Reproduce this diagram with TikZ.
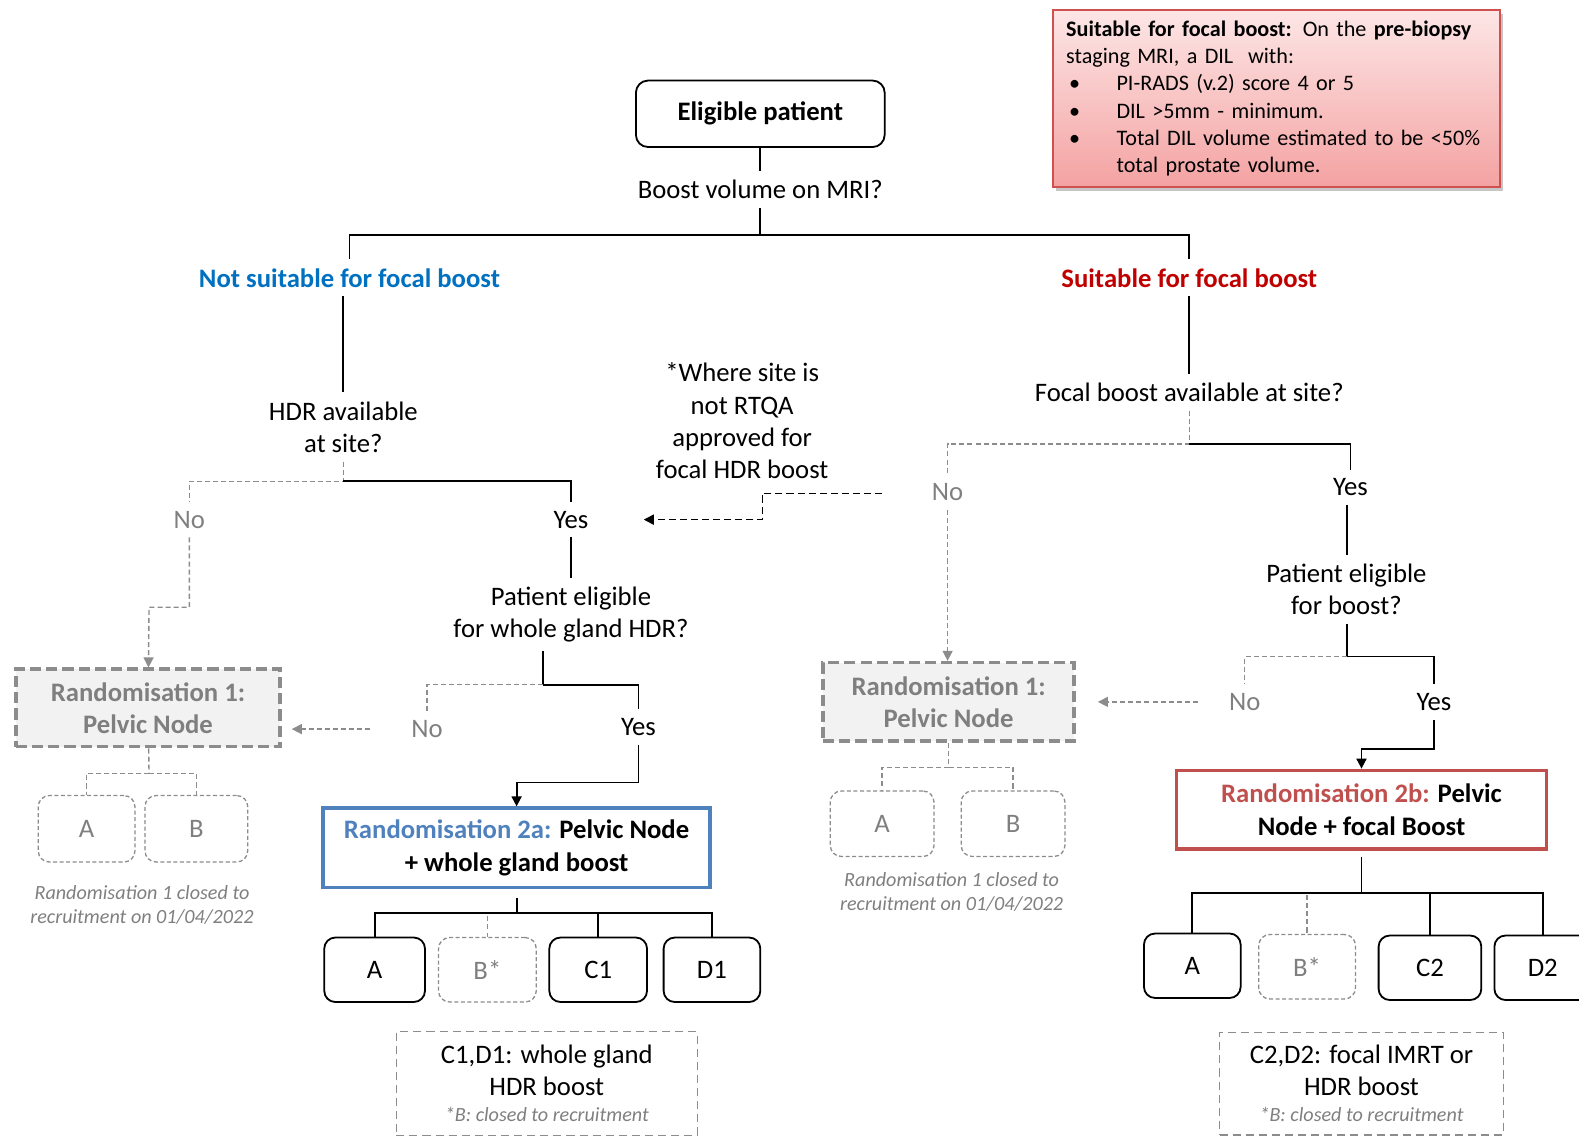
\documentclass[tikz,border=0pt]{standalone}
\usepackage{fontspec}
\setmainfont{Carlito}
\usetikzlibrary{calc, arrows.meta, shadows, shadings}

% bullet with its indent for the criteria box
\newcommand{\infobullet}{\makebox[50pt][l]{\hspace{3pt}\textbullet}}

\begin{document}
\begin{tikzpicture}[x=1pt, y=-1pt,
    txt/.style={font=\fontsize{26.5}{32}\selectfont, align=center, inner sep=3pt, outer sep=6pt},
    greytxt/.style={txt, text=greyText},
    boldtxt/.style={txt, font=\fontsize{26.5}{32}\selectfont\bfseries},
    conn/.style={draw=black, line width=1.8pt},
    greyconn/.style={draw=greyLine, line width=1.4pt, dash pattern=on 5pt off 3pt},
    blackdash/.style={draw=black, line width=1.6pt, dash pattern=on 7pt off 4pt},
    arrowtip/.style={-{Triangle[length=10pt,width=10pt]}},
    patientbox/.style={draw, rounded corners=12pt, line width=1.8pt, minimum width=247pt, minimum height=66pt, font=\fontsize{26.5}{32}\selectfont\bfseries},
    armbox/.style={draw, rounded corners=11pt, line width=1.8pt, minimum width=98pt, minimum height=64pt, font=\fontsize{26.5}{32}\selectfont},
    armgrey/.style={armbox, draw=greyLine, line width=1.3pt, dash pattern=on 4pt off 2.5pt, text=greyText},
    randone/.style={draw=greyLine, fill=greyFill, line width=3.5pt, dash pattern=on 11pt off 5pt, text=greyText, align=center, font=\fontsize{26.5}{32}\selectfont\bfseries},
    randtwo/.style={draw, line width=3.5pt, align=center, font=\fontsize{26.5}{32}\selectfont\bfseries},
    notebox/.style={draw=greyLine, line width=1.4pt, dash pattern=on 8pt off 5pt, align=center, font=\fontsize{26.5}{32}\selectfont},
    closednote/.style={font=\fontsize{20}{24}\selectfont\itshape, text=greyText, align=center, inner sep=2pt},
    infobox/.style={anchor=north west, draw=infoBorder, line width=1.5pt, top color=infoTop, bottom color=infoBot, drop shadow={shadow xshift=3pt, shadow yshift=-4pt, opacity=0.45}, minimum width=444pt, minimum height=176pt, text width=418pt, inner xsep=13pt, inner ysep=8pt, align=left, font=\fontsize{22}{27}\selectfont}
]
    % Define colours
    \definecolor{greyText}{HTML}{7F7F7F}
    \definecolor{greyLine}{HTML}{8C8C8C}
    \definecolor{greyFill}{HTML}{F2F2F2}
    \definecolor{blueLabel}{HTML}{0070C0}
    \definecolor{redLabel}{HTML}{C00000}
    \definecolor{blueBox}{HTML}{4F81BD}
    \definecolor{redBox}{HTML}{C0504D}
    \definecolor{infoTop}{HTML}{FDE6E6}
    \definecolor{infoBot}{HTML}{F4A2A2}
    \definecolor{infoBorder}{HTML}{D05050}

  % Fix the page size
  \useasboundingbox (0,0) rectangle (1568,1128);
  \clip (0,0) rectangle (1568,1128);

  % Criteria box
  \node[infobox] (info) at (1045,9) {\textbf{Suitable for focal boost:} On the \textbf{pre-biopsy}\\
    staging MRI, a DIL\ \ with:\\
    \infobullet PI-RADS (v.2) score 4 or 5\\
    \infobullet DIL >5mm - minimum.\\
    \infobullet Total DIL volume estimated to be <50\%\\
    \hspace*{50pt}total prostate volume.};

  % Top of the tree
  \node[patientbox] (elig) at (755,113) {Eligible patient};
  \node[txt] (mri) at (755,188) {Boost volume on MRI?};
  \node[boldtxt, text=blueLabel] (notsuit) at (347,276) {Not suitable for focal boost};
  \node[boldtxt, text=redLabel] (suit) at (1181,276) {Suitable for focal boost};

  % Left branch: not suitable
  \node[txt] (hdr) at (341,424) {HDR available\\at site?};
  \node[greytxt] (noA) at (188,516) {No};
  \node[txt] (yesA) at (567,516) {Yes};
  \node[txt] (wg) at (567,610) {Patient eligible\\for whole gland HDR?};
  \node[greytxt] (noB) at (424,724) {No};
  \node[txt] (yesB) at (634,722) {Yes};
  \node[txt] (rtqa) at (737,418) {*Where site is\\not RTQA\\approved for\\focal HDR boost};

  \node[randone, minimum width=262pt, minimum height=77pt] (rL) at (147,703) {Randomisation 1:\\Pelvic Node};
  \node[armgrey, minimum width=96pt, minimum height=66pt] (aL) at (86,823) {A};
  \node[armgrey, minimum width=102pt, minimum height=66pt] (bL) at (195,823) {B};
  \node[closednote] (cL) at (141,899) {Randomisation 1 closed to\\recruitment on 01/04/2022};

  \node[randtwo, draw=blueBox, minimum width=384pt, minimum height=79pt] (r2a) at (513,842) {\textcolor{blueBox}{Randomisation 2a:} Pelvic Node\\+ whole gland boost};
  \node[armbox, minimum width=100pt] (a2a) at (372,963) {A};
  \node[armgrey, minimum width=97pt] (b2a) at (484,963) {B*};
  \node[armbox, minimum width=97pt] (c2a) at (594,963) {C1};
  \node[armbox, minimum width=96pt] (d2a) at (707,963) {D1};
  \node[notebox, minimum width=299pt, minimum height=103pt] (n2a) at (543,1076) {C1,D1: whole gland\\HDR boost\\[-6pt]{\fontsize{20}{24}\selectfont\itshape\color{greyText}*B: closed to recruitment}};

  % Right branch: suitable
  \node[txt] (fb) at (1181,390) {Focal boost available at site?};
  \node[greytxt] (noC) at (941,489) {No};
  \node[txt] (yesC) at (1341,484) {Yes};
  \node[txt] (pb) at (1337,585) {Patient eligible\\for boost?};
  \node[greytxt] (noD) at (1236,697) {No};
  \node[txt] (yesD) at (1424,697) {Yes};

  \node[randone, minimum width=249pt, minimum height=78pt] (rR) at (942,697) {Randomisation 1:\\Pelvic Node};
  \node[armgrey, minimum width=103pt, minimum height=65pt] (aR) at (876,818) {A};
  \node[armgrey, minimum width=103pt, minimum height=65pt] (bR) at (1006,818) {B};
  \node[closednote] (cR) at (945,886) {Randomisation 1 closed to\\recruitment on 01/04/2022};

  \node[randtwo, draw=redBox, minimum width=367pt, minimum height=78pt] (r2b) at (1352,804) {\textcolor{redBox}{Randomisation 2b:} Pelvic\\Node + focal Boost};
  \node[armbox, minimum width=96pt] (a2b) at (1184,959) {A};
  \node[armgrey, minimum width=96pt] (b2b) at (1298,960) {B*};
  \node[armbox, minimum width=102pt] (c2b) at (1420,961) {C2};
  \node[armbox, minimum width=96pt] (d2b) at (1532,961) {D2};
  \node[notebox, minimum width=282pt, minimum height=102pt] (n2b) at (1352,1076) {C2,D2: focal IMRT or\\HDR boost\\[-6pt]{\fontsize{20}{24}\selectfont\itshape\color{greyText}*B: closed to recruitment}};

  % Split points
  \coordinate (mriS) at (755,233);
  \coordinate (hdrS) at (341,478);
  \coordinate (noAk) at (148,603);
  \coordinate (wgS) at (539,680);
  \coordinate (yesBk) at (634,777);
  \coordinate (r2aS) at (513,907);
  \coordinate (rLS) at (148,768);
  \coordinate (rtqaS) at (876,490);
  \coordinate (rtqaK) at (757,490);
  \coordinate (fbS) at (1181,441);
  \coordinate (pbS) at (1338,652);
  \coordinate (yesDk) at (1424,744);
  \coordinate (r2bS) at (1352,887);
  \coordinate (rRS) at (942,762);

  % Top connectors
  \draw[conn] (elig) -- (mri);
  \draw[conn] (mri) -- (mriS) -| (notsuit);
  \draw[conn] (mriS) -| (suit);

  % Left connectors
  \draw[conn] (hdr.north |- notsuit.south) -- (hdr);
  \draw[greyconn] (hdr) -- (hdrS) -| (noA);
  \draw[conn] (hdrS) -| (yesA);
  \draw[greyconn, arrowtip] (noA) |- (noAk) -- (rL);
  \draw[conn] (yesA) -- (wg);
  \draw[conn] (wgS |- wg.south) -- (wgS);
  \draw[greyconn] (wgS) -| (noB);
  \draw[conn] (wgS) -| (yesB);
  \draw[greyconn, arrowtip, shorten <=32pt, shorten >=10pt] (noB) -- (noB -| rL.east);
  \draw[conn, arrowtip] (yesB) -- (yesBk) -| (r2a);
  \draw[blackdash, arrowtip, shorten >=46pt] (rtqaS) -- (rtqaK) |- (yesA);

  \draw[greyconn] (rL) -- (rLS);
  \foreach \arm in {aL, bL}
    \draw[greyconn] (rLS) -| (\arm);

  \draw[conn, shorten <=8pt] (r2a) -- (r2aS);
  \draw[greyconn] (r2aS) -| (b2a);
  \foreach \arm in {a2a, c2a, d2a}
    \draw[conn] (r2aS) -| (\arm);

  % Right connectors
  \draw[conn] (fb.north |- suit.south) -- (fb);
  \draw[greyconn] (fb) -- (fbS) -| (noC);
  \draw[conn] (fbS) -| (yesC);
  \draw[greyconn, arrowtip] (noC) -- (noC |- rR.north);
  \draw[conn] (pbS |- yesC.south) -- (pbS |- pb.north);
  \draw[conn] (pbS |- pb.south) -- (pbS);
  \draw[greyconn] (pbS) -| (noD);
  \draw[conn] (pbS) -| (yesD);
  \draw[greyconn, arrowtip, shorten <=22pt, shorten >=22pt] (noD) -- (noD -| rR.east);
  \draw[conn, arrowtip] (yesD) -- (yesDk) -| (r2b);

  \draw[greyconn] (rR) -- (rRS);
  \foreach \arm in {aR, bR}
    \draw[greyconn] (rRS) -| (\arm);

  \draw[conn, shorten <=6pt] (r2b) -- (r2bS);
  \draw[greyconn] (r2bS) -| (b2b);
  \foreach \arm in {a2b, c2b, d2b}
    \draw[conn] (r2bS) -| (\arm);

\end{tikzpicture}
\end{document}
